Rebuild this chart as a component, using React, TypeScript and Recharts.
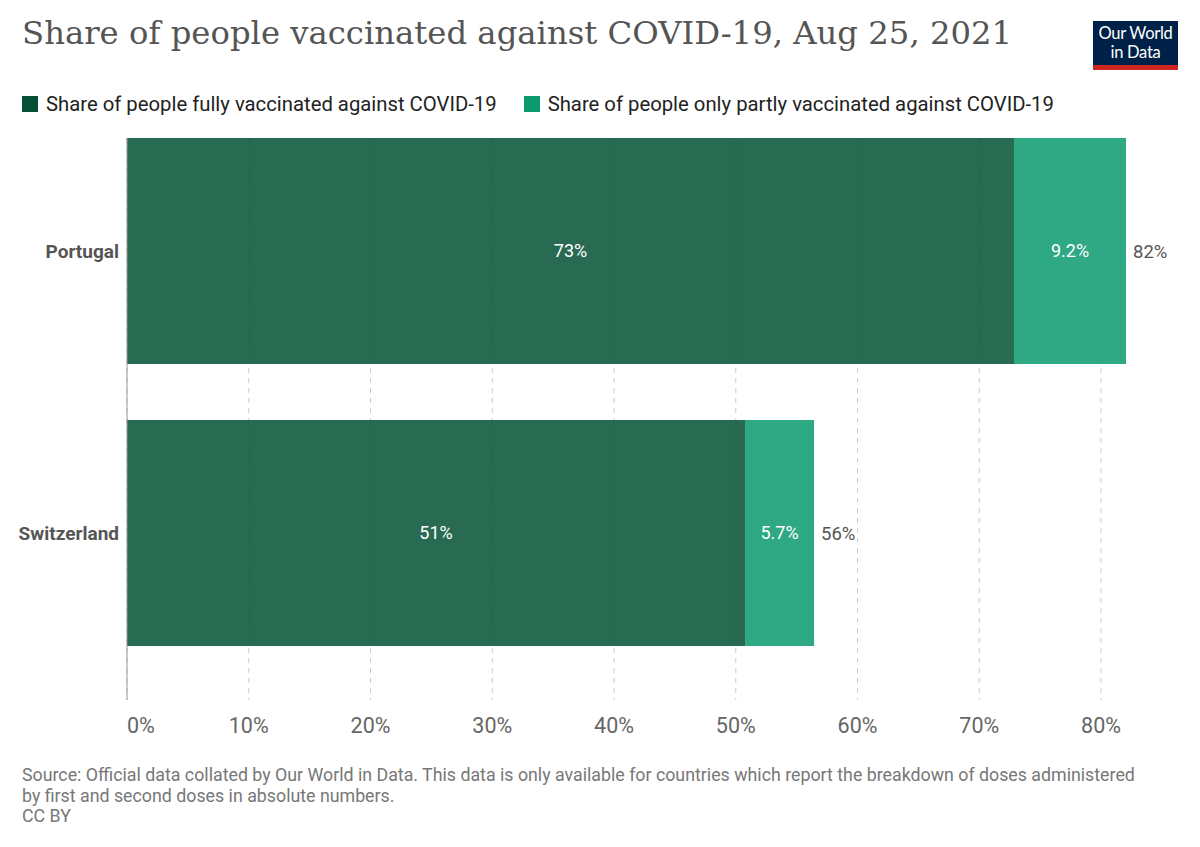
import React from "react";
import { BarChart, Bar, XAxis, YAxis, CartesianGrid, LabelList } from "recharts";

const countries: string[] = ["Portugal", "Switzerland"];
const fullyVaccinated: number[] = [72.85, 50.76];
const partlyVaccinated: number[] = [9.2, 5.67];
const xTicks: number[] = [0, 10, 20, 30, 40, 50, 60, 70, 80];

const seriesNames: string[] = [
  "Share of people fully vaccinated against COVID-19",
  "Share of people only partly vaccinated against COVID-19",
];
const seriesColors: string[] = ["#035035", "#0a996f"];

const data = countries.map((country, i) => ({
  country,
  fully: fullyVaccinated[i],
  partly: partlyVaccinated[i],
  total: fullyVaccinated[i] + partlyVaccinated[i],
}));

const maxTotal = Math.max(...data.map((d) => d.total));

const sans = "Roboto, 'Noto Sans', sans-serif";

const pct = (v: unknown) => {
  const n = Number(v);
  return n < 10 ? `${n.toFixed(1)}%` : `${Math.round(n)}%`;
};

// first tick is left-aligned, the rest centred
const XTick = (props: any) => {
  const { x, y, payload } = props;
  return (
    <text
      x={x}
      y={y}
      dy="0.71em"
      textAnchor={payload.value === 0 ? "start" : "middle"}
      fill="#666"
      fontSize={21.5}
      fontFamily={sans}
    >
      {`${payload.value}%`}
    </text>
  );
};

export default function App() {
  return (
    <div
      style={{
        position: "absolute",
        left: 0,
        top: 0,
        width: 1200,
        height: 847,
        background: "#fff",
        fontFamily: sans,
      }}
    >
      <div
        style={{
          position: "absolute",
          left: 22,
          top: 14,
          fontFamily: "'DejaVu Serif', serif",
          fontSize: 32.3,
          color: "#555",
          whiteSpace: "nowrap",
        }}
      >
        Share of people vaccinated against COVID-19, Aug 25, 2021
      </div>

      <div
        style={{
          position: "absolute",
          left: 1093,
          top: 21,
          width: 85,
          height: 49,
          background: "#002147",
          borderBottom: "5px solid #ce261e",
          boxSizing: "border-box",
          color: "#fff",
          fontFamily: "Lato, sans-serif",
          fontSize: 16.5,
          lineHeight: "19px",
          textAlign: "center",
          paddingTop: 3,
          letterSpacing: -0.3,
        }}
      >
        Our World
        <br />
        in Data
      </div>

      <div
        style={{
          position: "absolute",
          left: 22,
          top: 92,
          display: "flex",
          fontSize: 20.3,
          color: "#222",
          whiteSpace: "nowrap",
        }}
      >
        {seriesNames.map((name, i) => (
          <div
            key={name}
            style={{ display: "flex", alignItems: "center", marginRight: 27 }}
          >
            <span
              style={{
                display: "inline-block",
                width: 16,
                height: 16,
                background: seriesColors[i],
                marginRight: 8,
              }}
            />
            {name}
          </div>
        ))}
      </div>

      <div style={{ position: "absolute", left: 0, top: 0 }}>
        <BarChart
          width={1200}
          height={847}
          data={data}
          layout="vertical"
          margin={{ top: 138, right: 74, bottom: 117, left: 20 }}
        >
          <CartesianGrid
            horizontal={false}
            strokeDasharray="5 5"
            stroke="#ccc"
            syncWithTicks
          />
          <XAxis
            type="number"
            domain={[0, maxTotal]}
            ticks={xTicks}
            axisLine={false}
            tickLine={false}
            tickMargin={12}
            tick={<XTick />}
            allowDataOverflow
          />
          <YAxis
            type="category"
            dataKey="country"
            width={107}
            axisLine={{ stroke: "#999" }}
            tickLine={false}
            padding={{ top: -28, bottom: 26 }}
            tick={{
              fontSize: 19,
              fill: "#555",
              fontWeight: 700,
              fontFamily: sans,
            }}
          />
          <Bar
            dataKey="fully"
            stackId="a"
            fill={seriesColors[0]}
            fillOpacity={0.85}
            barSize={226}
            isAnimationActive={false}
          >
            <LabelList
              dataKey="fully"
              position="center"
              formatter={pct}
              style={{ fill: "#fff", fontSize: 18, fontFamily: sans }}
            />
          </Bar>
          <Bar
            dataKey="partly"
            stackId="a"
            fill={seriesColors[1]}
            fillOpacity={0.85}
            barSize={226}
            isAnimationActive={false}
          >
            <LabelList
              dataKey="partly"
              position="center"
              formatter={pct}
              style={{ fill: "#fff", fontSize: 18, fontFamily: sans }}
            />
            <LabelList
              dataKey="total"
              position="right"
              offset={7}
              formatter={pct}
              style={{ fill: "#555", fontSize: 18.5, fontFamily: sans }}
            />
          </Bar>
        </BarChart>
      </div>

      <div
        style={{
          position: "absolute",
          left: 22,
          top: 765,
          width: 1132,
          fontSize: 17.8,
          lineHeight: "20.5px",
          color: "#777",
        }}
      >
        Source: Official data collated by Our World in Data. This data is only
        available for countries which report the breakdown of doses
        administered by first and second doses in absolute numbers.
        <br />
        CC BY
      </div>
    </div>
  );
}
